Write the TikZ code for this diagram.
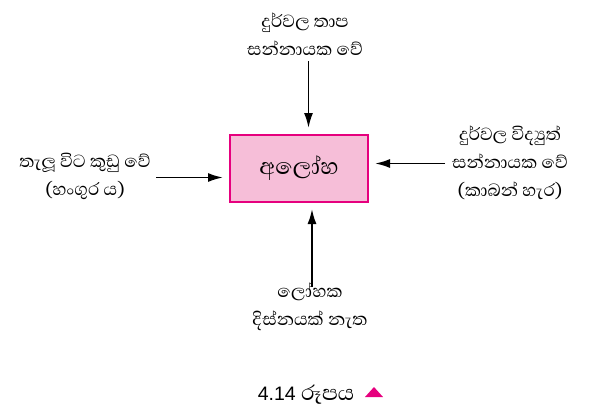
\documentclass[tikz,border=0pt]{standalone}
\usepackage{fontspec}
\setmainfont{Liberation Sans}
\newfontfamily\sinhalafont[Script=Sinhala]{Abhaya Libre}
\usetikzlibrary{arrows.meta}
\definecolor{boxedge}{HTML}{E6007E}
\definecolor{boxfill}{HTML}{F6BED8}
\tikzset{
  lbl/.style={align=center, font=\sinhalafont\fontsize{22.5}{28}\selectfont, inner sep=0pt},
  mainbox/.style={draw=boxedge, fill=boxfill, line width=2pt, minimum width=138pt, minimum height=67pt, inner sep=0pt, font=\sinhalafont\fontsize{29}{30}\selectfont},
  arr/.style={line width=1.8pt, -{Latex[length=15pt,width=9pt]}, shorten >=6pt},
}
\begin{document}
\begin{tikzpicture}[x=1pt,y=-1pt]
\useasboundingbox (0,0) rectangle (589,410);
\node[mainbox] (box) at (299,168.5) {අලෝහ};
\node[lbl] (top) at (305,34) {දුර්වල තාප\\සන්නායක වේ};
\node[lbl] (left) at (85,176) {තැලූ විට කුඩු වේ\\(හංගුර ය)};
\node[lbl] (right) at (510,163) {දුර්වල විද්‍යුත්\\සන්නායක වේ\\(කාබන් හැර)};
\node[lbl] (bottom) at (310,307) {ලෝහක\\දිස්නයක් නැත};
\node[inner sep=0pt, font=\fontsize{19.5}{20}\selectfont] (cap) at (306,395) {4.14 {\sinhalafont\fontsize{27}{20}\selectfont රූපය}};
\fill[boxedge] (365,397) -- (383,397) -- (374,387) -- cycle;
\coordinate (ttop) at (308.5,61);
\coordinate (tleft) at (156,177.5);
\coordinate (tright) at (445,163.5);
\coordinate (tbot) at (312,287);
\draw[arr] (ttop) -- (ttop |- box.north);
\draw[arr] (tleft) -- (tleft -| box.west);
\draw[arr] (tright) -- (tright -| box.east);
\draw[arr] (tbot) -- (tbot |- box.south);
\end{tikzpicture}
\end{document}
